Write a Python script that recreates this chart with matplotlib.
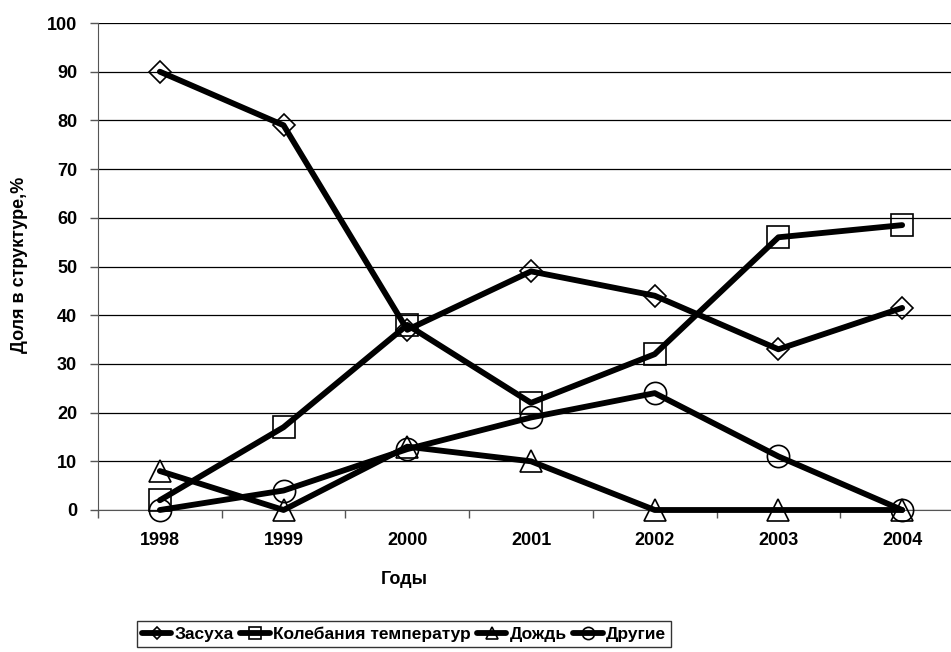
import numpy as np
import matplotlib.pyplot as plt

plt.rcParams["font.family"] = ["Liberation Sans", "DejaVu Sans"]

years = ["1998", "1999", "2000", "2001", "2002", "2003", "2004"]
drought = [90, 79, 37, 49, 44, 33, 41.5]
temperature = [2, 17, 38, 22, 32, 56, 58.5]
rain = [8, 0, 13, 10, 0, 0, 0]
other = [0, 4, 12.5, 19, 24, 11, 0]

series = [
    ("Засуха", drought, "D", 11.5),
    ("Колебания температур", temperature, "s", 16),
    ("Дождь", rain, "^", 16),
    ("Другие", other, "o", 16),
]

W, H = 951, 652
fig = plt.figure(figsize=(W / 100, H / 100), dpi=100)
ax = fig.add_axes([98 / W, 1 - 510 / H, 866 / W, 487 / H])

x = np.arange(len(years))
for name, vals, m, ms in series:
    ax.plot(x, vals, color="black", lw=4.2, marker=m, ms=ms,
            mfc="none", mec="black", mew=1.2, label=name,
            solid_capstyle="round", clip_on=False, zorder=3)

ax.set_xlim(-0.5, 6.5)
ax.set_ylim(0, 100)
ax.set_yticks(range(0, 101, 10))
ax.set_xticks(x)
ax.set_xticklabels(years)
ax.set_xticks(np.arange(-0.5, 6.6, 1), minor=True)
ax.tick_params(axis="x", which="major", length=0, pad=16)
ax.tick_params(axis="x", which="minor", length=6, width=1, direction="out",
               color="#555555")
ax.tick_params(axis="y", length=6, width=1, direction="out", pad=9,
               color="#555555")
ax.yaxis.grid(True, color="black", lw=0.9)
ax.set_axisbelow(True)
for s in ["top", "right"]:
    ax.spines[s].set_visible(False)
ax.spines["left"].set_color("#555555")
ax.spines["bottom"].set_color("#555555")

for lab in ax.get_xticklabels() + ax.get_yticklabels():
    lab.set_fontweight("bold")
    lab.set_fontsize(13)

fig.text(404 / W, 1 - 580 / H, "Годы", ha="center", va="center",
         fontsize=13, fontweight="bold")
fig.text(20 / W, 1 - 265 / H, "Доля в структуре,%", ha="center", va="center",
         rotation=90, fontsize=13, fontweight="bold")

leg = fig.legend(loc="center", bbox_to_anchor=(404 / W, 1 - 634 / H), ncol=4,
                 frameon=True, fancybox=False, edgecolor="black",
                 prop={"weight": "bold", "size": 12.5}, handlelength=1.7,
                 markerscale=0.55, columnspacing=0.35, handletextpad=0.2,
                 borderpad=0.3, borderaxespad=0)
leg.get_frame().set_linewidth(1)

fig.savefig("out.png", dpi=100)
